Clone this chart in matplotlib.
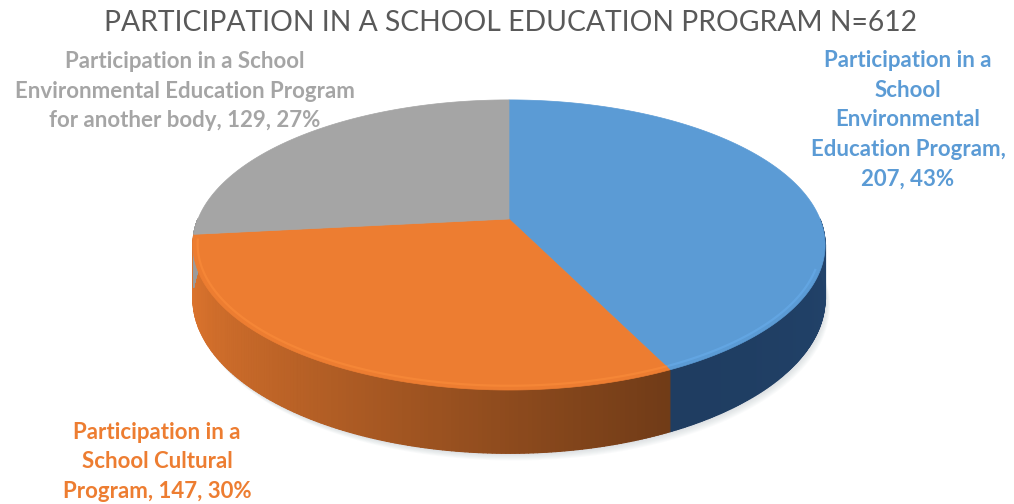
import numpy as np
import matplotlib.pyplot as plt
from matplotlib.patches import Polygon
from matplotlib.collections import PolyCollection
from matplotlib.colors import to_rgb

# data
title = 'PARTICIPATION IN A SCHOOL EDUCATION PROGRAM N=612'
names = ['Participation in a\nSchool\nEnvironmental\nEducation Program',
         'Participation in a\nSchool Cultural\nProgram',
         'Participation in a School\nEnvironmental Education Program\nfor another body']
values = [207, 147, 129]
colors = ['#5B9BD5', '#ED7D31', '#A5A5A5']
value_sep = ['\n', ' ', ' ']          # where the numbers go
label_xy = [(908, 120), (157, 462), (185, 91)]

# geometry of the tilted disc (pixel space)
cx, cy = 509, 219
A, B, k = 311, 140.4, 0.179
h = 52


def proj(t, depth=0.0):
    u, v = np.cos(t), np.sin(t)
    s = 1.0 / (1.0 + k * v)
    return cx + A * u * s, cy - B * v * s + depth * s


def shade(t):
    tl = np.radians(-190)
    return 0.35 + 0.6 * (1 + np.cos(t - tl)) / 2


fig = plt.figure(figsize=(10.14, 5.04), dpi=100)
ax = fig.add_axes([0, 0, 1, 1])
ax.set_xlim(0, 1014)
ax.set_ylim(504, 0)
ax.axis('off')

total = sum(values)
bounds = 90 - 360 * np.concatenate([[0], np.cumsum(values)]) / total

# soft shadow under the pie
tt = np.linspace(0, 2 * np.pi, 300)
for d in range(1, 9):
    x, y = proj(tt, h)
    ax.add_patch(Polygon(np.c_[x + d * 0.6, y + d * 0.9], closed=True,
                         fc='#7f8c99', ec='none', alpha=0.035, zorder=1))

# side walls (front half only)
for i, col in enumerate(colors):
    a0, a1 = bounds[i], bounds[i + 1]
    lo, hi = max(min(a0, a1), -180), min(max(a0, a1), 0)
    if hi <= lo:
        continue
    ts = np.radians(np.linspace(lo, hi, 160))
    base = np.array(to_rgb(col))
    tint = np.array([0.8, 0.93, 1.08]) if i == 0 else np.ones(3)

    def side_col(t):
        if i == 0:
            return np.clip(base * tint * (0.42 + 0.04 * (t - ts[0])), 0, 1)
        return np.clip(base * shade(t), 0, 1)

    # solid underlay so the strips show no seams
    xt, yt = proj(ts)
    xb, yb = proj(ts[::-1], h)
    ax.add_patch(Polygon(np.c_[np.r_[xt, xb], np.r_[yt, yb]], closed=True,
                         fc=side_col(ts.mean()), ec='none', zorder=2))
    polys, fcs = [], []
    for j in range(len(ts) - 1):
        t0, t1 = ts[j], ts[j + 1]
        x0, y0 = proj(t0)
        x1, y1 = proj(t1)
        x2, y2 = proj(t1, h)
        x3, y3 = proj(t0, h)
        polys.append([(x0, y0), (x1, y1), (x2, y2), (x3, y3)])
        fcs.append(side_col(0.5 * (t0 + t1)))
    ax.add_collection(PolyCollection(polys, facecolors=fcs, edgecolors=fcs,
                                     linewidths=0.8, zorder=2.1))

# top faces
for i, col in enumerate(colors):
    ts = np.radians(np.linspace(bounds[i], bounds[i + 1], 200))
    x, y = proj(ts)
    pts = np.vstack([[cx, cy], np.c_[x, y]])
    ax.add_patch(Polygon(pts, closed=True, fc=col, ec=col, lw=0.5, zorder=3))
    # bevel highlight along the front rim
    lo, hi = max(min(bounds[i], bounds[i + 1]), -172), min(max(bounds[i], bounds[i + 1]), -20)
    if hi > lo:
        tr = np.radians(np.linspace(lo, hi, 100))
        xr, yr = proj(tr)
        xr = cx + (xr - cx) * 0.985
        yr = cy + (yr - cy) * 0.975
        light = np.clip(np.array(to_rgb(col)) * 1.1 + 0.03, 0, 1)
        ax.plot(xr, yr, color=light, lw=1.6, alpha=0.45, zorder=4,
                solid_capstyle='butt')

# labels
for i, col in enumerate(colors):
    pct = round(100 * values[i] / total)
    txt = f'{names[i]},{value_sep[i]}{values[i]}, {pct}%'
    ax.text(label_xy[i][0], label_xy[i][1], txt, color=col, fontsize=16,
            fontweight='bold', family='Lato', ha='center', va='center',
            linespacing=1.52, zorder=5)

ax.text(511, 23, title, color='#595959', fontsize=20.3, family='Lato',
        ha='center', va='center', zorder=5)

fig.savefig('out.png', dpi=100)
